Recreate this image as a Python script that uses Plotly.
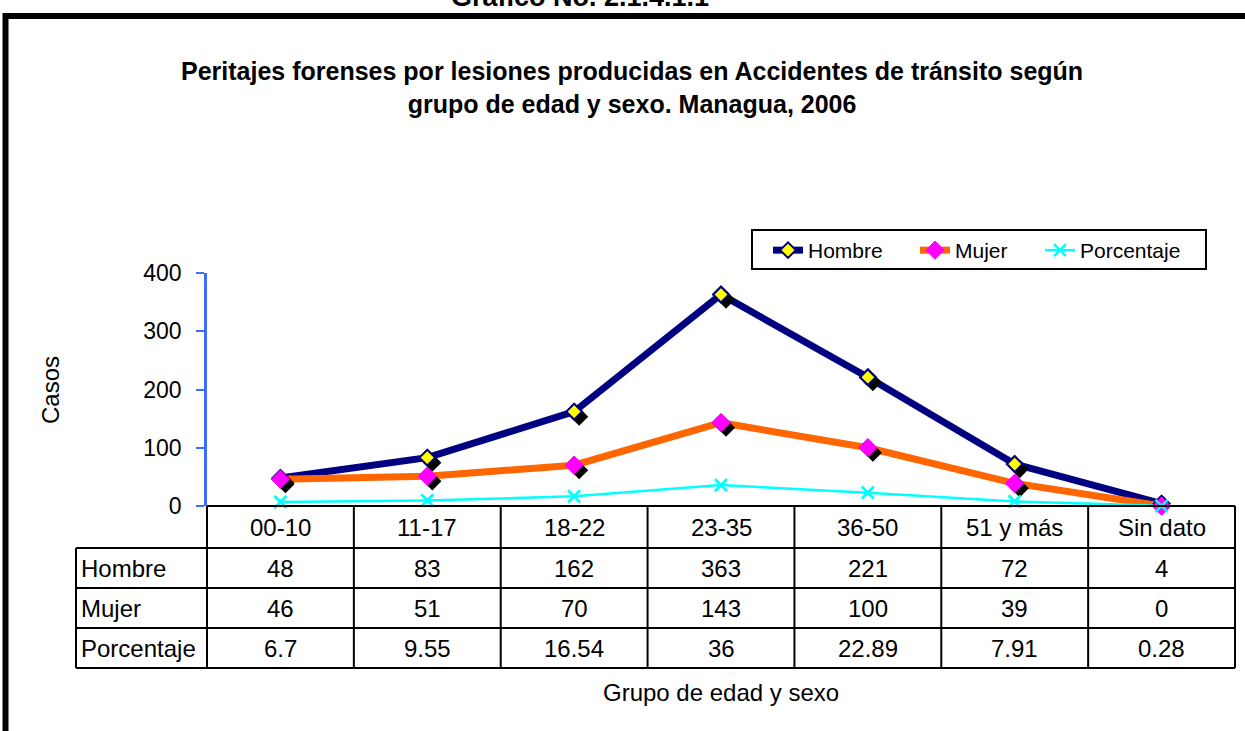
import plotly.graph_objects as go

# ---------------- data ----------------
categorias = ["00-10", "11-17", "18-22", "23-35", "36-50", "51 y más", "Sin dato"]
hombre = [48, 83, 162, 363, 221, 72, 4]
mujer = [46, 51, 70, 143, 100, 39, 0]
porcentaje = [6.7, 9.55, 16.54, 36, 22.89, 7.91, 0.28]
series_names = ["Hombre", "Mujer", "Porcentaje"]
y_ticks = [0, 100, 200, 300, 400]

titulo_sup = "Gráfico No. 2.1.4.1.1"
titulo = "Peritajes forenses por lesiones producidas en Accidentes de tránsito según<br>grupo de edad y sexo. Managua, 2006"
eje_y = "Casos"
eje_x = "Grupo de edad y sexo"

# ---------------- layout geometry (pixels) ----------------
W, H = 1245, 731
L, R, T, B = 207, 10, 273, 225
PW, PH = W - L - R, H - T - B
FONT = "Arial, Liberation Sans, sans-serif"


def px(p):
    return (p - L) / PW


def py(p):
    return (H - B - p) / PH


n = len(categorias)
xr = [-0.5, n - 0.5]
yr = [0, 400]
# shadow offset of markers (pixels)
dx_px, dy_px = 5, 5
dx = dx_px * (xr[1] - xr[0]) / PW
dy = dy_px * (yr[1] - yr[0]) / PH

NAVY = "#000080"
ORANGE = "#FF6600"
CYAN = "#00FFFF"
MAGENTA = "#FF00FF"
YELLOW = "#FFFF00"
AXBLUE = "#3F6BFF"

H_MARK = dict(symbol="diamond", size=12, color=YELLOW, line=dict(color=NAVY, width=2))
M_MARK = dict(symbol="diamond", size=14, color=MAGENTA, line=dict(color=MAGENTA, width=1))
P_MARK = dict(symbol="x-thin", size=12, color=CYAN, line=dict(color=CYAN, width=2.5))

fig = go.Figure()

# lines (base layer) - each series in its own legend box slot
fig.add_trace(go.Scatter(x=categorias, y=hombre, name=series_names[0], mode="lines+markers",
                         line=dict(color=NAVY, width=7), marker=H_MARK, cliponaxis=False, legend="legend"))
fig.add_trace(go.Scatter(x=categorias, y=mujer, name=series_names[1], mode="lines+markers",
                         line=dict(color=ORANGE, width=7), marker=M_MARK, cliponaxis=False, legend="legend2"))
fig.add_trace(go.Scatter(x=categorias, y=porcentaje, name=series_names[2], mode="lines+markers",
                         line=dict(color=CYAN, width=2.5), marker=P_MARK, cliponaxis=False, legend="legend3"))

# shadows (middle layer, shifted axes)
for vals, size in [(hombre, 14), (mujer, 14)]:
    fig.add_trace(go.Scatter(x=categorias, y=vals, mode="markers", showlegend=False, hoverinfo="skip",
                             marker=dict(symbol="diamond", size=size, color="black"),
                             xaxis="x2", yaxis="y2", cliponaxis=False))

# markers on top
for vals, mk in [(hombre, H_MARK), (mujer, M_MARK), (porcentaje, P_MARK)]:
    fig.add_trace(go.Scatter(x=categorias, y=vals, mode="markers", showlegend=False, hoverinfo="skip",
                             marker=mk, xaxis="x3", yaxis="y3", cliponaxis=False))

# ---------------- table (shapes + annotations) ----------------
rows_px = [506, 548, 588, 628, 668]
left_px = 76
shapes = []
lw = 2
shapes.append(dict(type="line", xref="paper", yref="paper", x0=0, x1=1, y0=py(rows_px[0]), y1=py(rows_px[0]),
                   line=dict(color="black", width=lw)))
for r in rows_px[1:]:
    shapes.append(dict(type="line", xref="paper", yref="paper", x0=px(left_px), x1=1, y0=py(r), y1=py(r),
                       line=dict(color="black", width=lw)))
for k in range(n + 1):
    xk = k / n
    shapes.append(dict(type="line", xref="paper", yref="paper", x0=xk, x1=xk,
                       y0=py(rows_px[0]), y1=py(rows_px[-1]), line=dict(color="black", width=lw)))
shapes.append(dict(type="line", xref="paper", yref="paper", x0=px(left_px), x1=px(left_px),
                   y0=py(rows_px[1]), y1=py(rows_px[-1]), line=dict(color="black", width=lw)))
# outer frame
shapes.append(dict(type="rect", xref="paper", yref="paper", x0=px(5.5), x1=px(1262),
                   y0=py(16), y1=py(760), line=dict(color="black", width=6), fillcolor="rgba(0,0,0,0)"))
# legend box
shapes.append(dict(type="rect", xref="paper", yref="paper", x0=px(752), x1=px(1206),
                   y0=py(230), y1=py(269), line=dict(color="black", width=2), fillcolor="rgba(0,0,0,0)"))

annotations = []
TF = 24


def txt(text, x, y, size, xref="paper", xanchor="center", **kw):
    d = dict(text=text, xref=xref, yref="paper", x=x, y=y, xanchor=xanchor, yanchor="middle",
             showarrow=False, font=dict(size=size, color="black", family=FONT))
    d.update(kw)
    return d


row_centers = [(rows_px[i] + rows_px[i + 1]) / 2 for i in range(len(rows_px) - 1)]
for c in categorias:
    annotations.append(txt(c, c, py(row_centers[0]), TF, xref="x"))
table_vals = [[str(v) for v in hombre], [str(v) for v in mujer], [f"{v:g}" for v in porcentaje]]
for i, (nm, vals) in enumerate(zip(series_names, table_vals)):
    yc = py(row_centers[i + 1])
    annotations.append(txt(nm, px(79), yc, TF, xanchor="left"))
    for c, v in zip(categorias, vals):
        annotations.append(txt(v, c, yc, TF, xref="x"))

# titles
annotations.append(txt("<b>" + titulo_sup + "</b>", px(580), py(-3), 27))
annotations.append(txt("<b>" + titulo + "</b>", px(632), py(87), 25))
annotations.append(txt(eje_y, px(50), py(390), 24, textangle=-90))
annotations.append(txt(eje_x, 0.5, py(692), 24))


def leg(x_px):
    return dict(orientation="h", x=px(x_px), y=py(230), xanchor="left", yanchor="top",
                borderwidth=0, bgcolor="rgba(0,0,0,0)",
                font=dict(size=21, color="black", family=FONT))


hidden_x = dict(type="category", showline=False, showgrid=False, zeroline=False, showticklabels=False, ticks="")
fig.update_layout(
    width=W, height=H,
    margin=dict(l=L, r=R, t=T, b=B, pad=0),
    paper_bgcolor="white", plot_bgcolor="white",
    font=dict(family=FONT, color="black"),
    xaxis=dict(hidden_x, range=xr),
    yaxis=dict(range=yr, tickvals=y_ticks, showgrid=False, zeroline=False, showline=True,
               linecolor=AXBLUE, linewidth=2.5, ticks="outside", ticklen=8, tickwidth=2, tickcolor=AXBLUE,
               tickfont=dict(size=23, color="black", family=FONT), ticklabelstandoff=10),
    xaxis2=dict(hidden_x, range=[xr[0] - dx, xr[1] - dx], overlaying="x", anchor="y2", visible=False),
    yaxis2=dict(range=[yr[0] + dy, yr[1] + dy], overlaying="y", anchor="x2", visible=False),
    xaxis3=dict(hidden_x, range=xr, overlaying="x", anchor="y3", visible=False),
    yaxis3=dict(range=yr, overlaying="y", anchor="x3", visible=False),
    showlegend=True,
    legend=leg(768),
    legend2=leg(915),
    legend3=leg(1040),
    shapes=shapes,
    annotations=annotations,
    hovermode=False,
)

fig.write_html("out.html", config={"displayModeBar": False},
               post_script="document.body.style.margin='0';document.body.style.overflow='hidden';")
